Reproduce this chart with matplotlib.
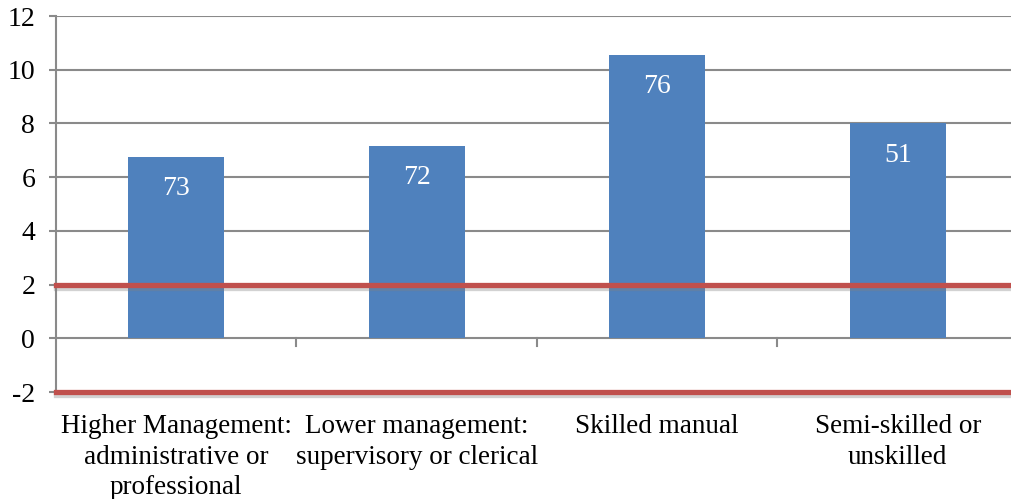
import matplotlib
matplotlib.use("Agg")
import matplotlib.pyplot as plt
import matplotlib.patheffects as pe

categories = ["Higher Management:\nadministrative or\nprofessional",
              "Lower management:\nsupervisory or clerical",
              "Skilled manual",
              "Semi-skilled or\nunskilled"]
values = [6.75, 7.15, 10.55, 8.0]
bar_labels = ["73", "72", "76", "51"]
ref_lines = [2, -2]
yticks = [-2, 0, 2, 4, 6, 8, 10, 12]

plt.rcParams['font.family'] = ['Liberation Serif', 'DejaVu Serif']

fig = plt.figure(figsize=(10.12, 4.99), dpi=100)
ax = fig.add_axes([56/1012, 1-392/499, (1018-56)/1012, (392-16)/499])

grid_color = '#8A8A8A'
x = list(range(len(categories)))
ax.set_xlim(-0.5, len(categories) - 0.5)
ax.set_ylim(-2, 12)

for yv in yticks:
    ax.axhline(yv, color=grid_color, lw=1.5, zorder=1)

bars = ax.bar(x, values, width=0.4, color='#4F81BD', zorder=2)
for b, lab in zip(bars, bar_labels):
    ax.text(b.get_x() + b.get_width()/2, b.get_height() - 1.18, lab,
            ha='center', va='center', color='white', fontsize=20, zorder=4)

for yv in ref_lines:
    ax.axhline(yv, color='#C0504D', lw=3.8, zorder=3, clip_on=False,
               path_effects=[pe.SimpleLineShadow(offset=(0, -2.5), shadow_color='#808080', alpha=0.35),
                             pe.Normal()])

for s in ['top', 'right', 'bottom']:
    ax.spines[s].set_visible(False)
ax.spines['left'].set_color(grid_color)
ax.spines['left'].set_linewidth(1.5)

ax.set_yticks(yticks)
ax.set_yticklabels([str(v) for v in yticks])
ax.tick_params(axis='y', length=5, width=1.5, color=grid_color, labelsize=20, pad=10)

# category boundary ticks at y=0
ax.set_xticks([])
for i in range(1, len(categories)):
    ax.plot([i - 0.5, i - 0.5], [0, -0.27], color=grid_color, lw=1.5, zorder=1)

for xi, cat in zip(x, categories):
    ax.text(xi, -2.82, cat, ha='center', va='top', fontsize=19.5,
            linespacing=1.3, clip_on=False)

fig.savefig('out.png', dpi=100)
